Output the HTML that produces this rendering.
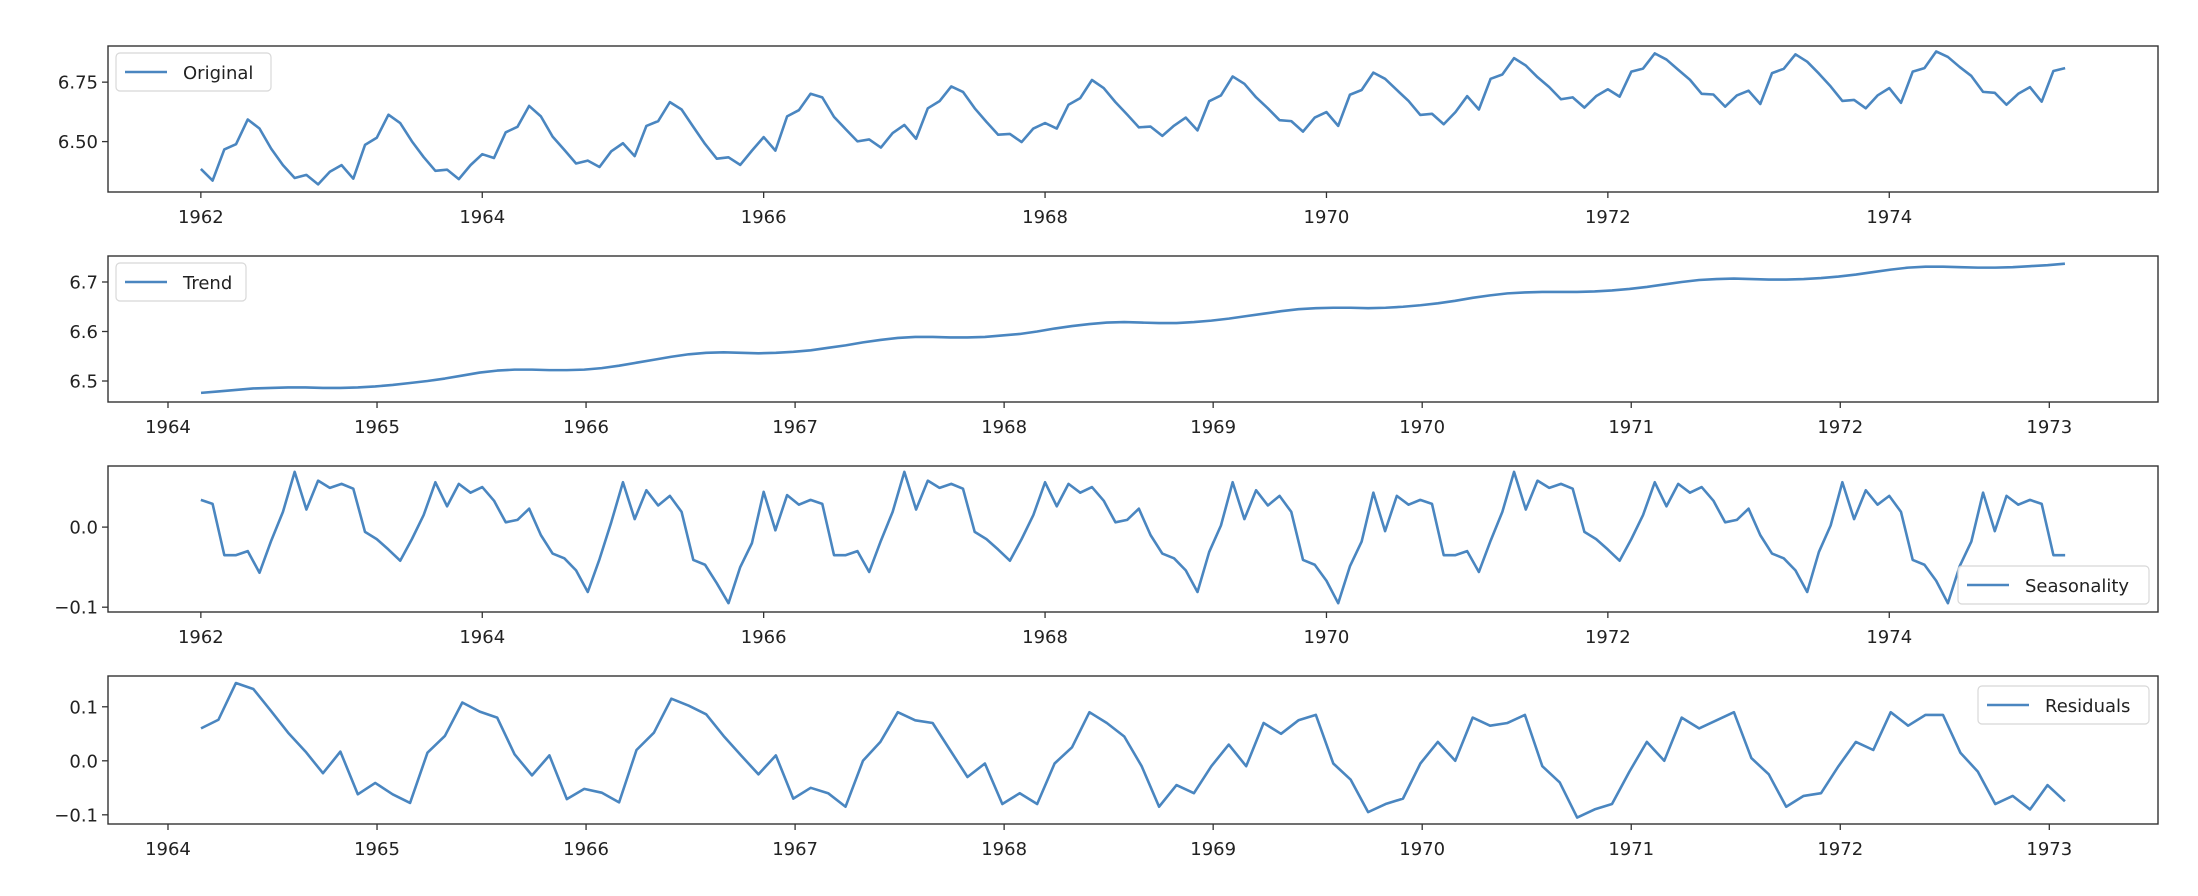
<!DOCTYPE html>
<html><head><meta charset="utf-8"><style>
html,body{margin:0;padding:0;background:#fff;}
svg{display:block;font-family:"DejaVu Sans","Liberation Sans",sans-serif;}
</style></head>
<body>
<svg id="fig" width="2198" height="896" viewBox="0 0 2198 896" xmlns="http://www.w3.org/2000/svg"></svg>
<script>
const originalValues = [6.385,6.336,6.467,6.489,6.593,6.555,6.470,6.401,6.347,6.360,6.320,6.373,6.401,6.344,6.486,6.516,6.613,6.578,6.501,6.435,6.377,6.382,6.342,6.401,6.447,6.431,6.539,6.562,6.650,6.606,6.521,6.465,6.408,6.420,6.393,6.459,6.493,6.439,6.566,6.586,6.666,6.635,6.562,6.490,6.428,6.434,6.402,6.462,6.519,6.462,6.606,6.632,6.701,6.686,6.604,6.552,6.501,6.509,6.475,6.536,6.570,6.512,6.640,6.670,6.732,6.709,6.640,6.583,6.529,6.532,6.498,6.555,6.578,6.555,6.655,6.683,6.759,6.725,6.666,6.614,6.560,6.563,6.524,6.567,6.601,6.547,6.670,6.694,6.774,6.743,6.686,6.640,6.590,6.586,6.542,6.601,6.624,6.566,6.697,6.717,6.790,6.764,6.717,6.671,6.612,6.617,6.573,6.624,6.691,6.635,6.764,6.782,6.851,6.820,6.771,6.729,6.678,6.686,6.643,6.691,6.720,6.689,6.794,6.807,6.871,6.845,6.802,6.760,6.701,6.698,6.647,6.694,6.714,6.658,6.788,6.806,6.867,6.836,6.786,6.732,6.671,6.675,6.640,6.694,6.725,6.663,6.794,6.809,6.879,6.856,6.814,6.776,6.709,6.705,6.655,6.701,6.729,6.668,6.797,6.809];
const seasonalValues = [0.034,0.029,-0.035,-0.035,-0.030,-0.057,-0.017,0.019,0.069,0.022,0.058,0.049,0.054,0.048,-0.006,-0.015,-0.028,-0.042,-0.015,0.015,0.056,0.026,0.054,0.043,0.050,0.033,0.006,0.009,0.023,-0.010,-0.033,-0.039,-0.054,-0.081,-0.040,0.006,0.056,0.010,0.046,0.027,0.039,0.019,-0.041,-0.047,-0.070,-0.095,-0.050,-0.020,0.044,-0.004,0.040,0.028,0.034,0.029,-0.035,-0.035,-0.030,-0.056,-0.017,0.019,0.069,0.022,0.058,0.049,0.054,0.048,-0.006,-0.015,-0.028,-0.042,-0.015,0.015,0.056,0.026,0.054,0.043,0.050,0.033,0.006,0.009,0.023,-0.010,-0.033,-0.039,-0.054,-0.081,-0.031,0.002,0.056,0.010,0.046,0.027,0.039,0.019,-0.041,-0.047,-0.067,-0.095,-0.049,-0.018,0.043,-0.005,0.039,0.028,0.034,0.029,-0.035,-0.035,-0.030,-0.056,-0.017,0.019,0.069,0.022,0.058,0.049,0.054,0.048,-0.006,-0.015,-0.028,-0.042,-0.015,0.015,0.056,0.026,0.054,0.043,0.050,0.033,0.006,0.009,0.023,-0.010,-0.033,-0.039,-0.054,-0.081,-0.031,0.002,0.056,0.010,0.046,0.028,0.039,0.019,-0.041,-0.047,-0.067,-0.095,-0.049,-0.018,0.043,-0.005,0.039,0.028,0.034,0.029,-0.035,-0.035];
const trendValues = [6.476,6.479,6.482,6.485,6.486,6.487,6.487,6.486,6.486,6.487,6.489,6.492,6.496,6.500,6.505,6.511,6.517,6.521,6.523,6.523,6.522,6.522,6.523,6.526,6.531,6.537,6.543,6.549,6.554,6.557,6.558,6.557,6.556,6.557,6.559,6.562,6.567,6.572,6.578,6.583,6.587,6.589,6.589,6.588,6.588,6.589,6.592,6.595,6.600,6.606,6.611,6.615,6.618,6.619,6.618,6.617,6.617,6.619,6.622,6.626,6.631,6.636,6.641,6.645,6.647,6.648,6.648,6.647,6.648,6.650,6.653,6.657,6.662,6.668,6.673,6.677,6.679,6.680,6.680,6.680,6.681,6.683,6.686,6.690,6.695,6.700,6.704,6.706,6.707,6.706,6.705,6.705,6.706,6.708,6.711,6.715,6.720,6.725,6.729,6.731,6.731,6.730,6.729,6.729,6.730,6.732,6.734,6.737];
const residualValues = [0.060,0.076,0.144,0.133,0.093,0.052,0.017,-0.023,0.017,-0.062,-0.041,-0.062,-0.078,0.015,0.046,0.108,0.091,0.080,0.012,-0.027,0.010,-0.071,-0.052,-0.059,-0.077,0.020,0.052,0.115,0.102,0.086,0.046,0.010,-0.025,0.010,-0.070,-0.050,-0.060,-0.085,0.000,0.035,0.090,0.075,0.070,0.020,-0.030,-0.005,-0.080,-0.060,-0.080,-0.005,0.025,0.090,0.070,0.045,-0.010,-0.085,-0.045,-0.060,-0.010,0.030,-0.010,0.070,0.050,0.075,0.085,-0.005,-0.035,-0.095,-0.080,-0.070,-0.005,0.035,0.000,0.080,0.065,0.070,0.085,-0.010,-0.040,-0.105,-0.090,-0.080,-0.020,0.035,0.000,0.080,0.060,0.075,0.090,0.005,-0.025,-0.085,-0.065,-0.060,-0.010,0.035,0.020,0.090,0.065,0.085,0.085,0.015,-0.020,-0.080,-0.065,-0.090,-0.045,-0.075];
const origStartYear = 1962.0;
const trendStartYear = 1964.158;
const xTicksA = [1962,1964,1966,1968,1970,1972,1974];
const xTicksB = [1964,1965,1966,1967,1968,1969,1970,1971,1972,1973];
const yTicksOrig = [6.50,6.75];
const yTickLabelsOrig = ["6.50","6.75"];
const yTicksTrend = [6.5,6.6,6.7];
const yTickLabelsTrend = ["6.5","6.6","6.7"];
const yTicksSeas = [-0.1,0.0];
const yTickLabelsSeas = ["\u22120.1","0.0"];
const yTicksResid = [-0.1,0.0,0.1];
const yTickLabelsResid = ["\u22120.1","0.0","0.1"];

const NS = "http://www.w3.org/2000/svg";
const svg = document.getElementById('fig');
const L = 108, R = 2158, COLOR = "#4a86c0";

function mk(tag, attrs, parent){ const e=document.createElementNS(NS,tag); for(const k in attrs) e.setAttribute(k,attrs[k]); (parent||svg).appendChild(e); return e; }

function panel(cfg){
  const g = mk('g',{});
  
  
  const xs = v => L + (v - cfg.x0)/(cfg.x1 - cfg.x0)*(R - L);
  const ys = v => cfg.bot - (v - cfg.y0)/(cfg.y1 - cfg.y0)*(cfg.bot - cfg.top);
  // line
  const pts = cfg.values.map((v,i)=> xs(cfg.start + i/12).toFixed(2)+','+ys(v).toFixed(2)).join(' ');
  const line = mk('polyline',{points:pts,fill:'none',stroke:COLOR,'stroke-width':2.6,'stroke-linejoin':'round'},g);
  
  
  // frame
  const fr = mk('rect',{x:L,y:cfg.top,width:R-L,height:cfg.bot-cfg.top,fill:'none',stroke:'#333','stroke-width':1.4},g);
  
  
  // x ticks
  cfg.xticks.forEach(t=>{
    const x = xs(t);
    mk('line',{x1:x,x2:x,y1:cfg.bot,y2:cfg.bot+6,stroke:'#333','stroke-width':1.3},g);
    const tx = mk('text',{x:x,y:cfg.bot+31,'text-anchor':'middle','font-size':18,fill:'#222'},g);
    
    
    tx.textContent = String(t);
  });
  cfg.yticks.forEach((t,i)=>{
    const y = ys(t);
    mk('line',{x1:L-6,x2:L,y1:y,y2:y,stroke:'#333','stroke-width':1.3},g);
    const tx = mk('text',{x:L-10,y:y+6.5,'text-anchor':'end','font-size':18,fill:'#222'},g);
    
    
    tx.textContent = cfg.ylabels[i];
  });
  // legend
  const lg = mk('g',{},g);
  
  
  mk('rect',{x:cfg.lx,y:cfg.ly,width:cfg.lw,height:38,rx:4,fill:'#fff','fill-opacity':0.85,stroke:'#d8d8d8','stroke-width':1.2},lg);
  mk('line',{x1:cfg.lx+9,x2:cfg.lx+51,y1:cfg.ly+19,y2:cfg.ly+19,stroke:COLOR,'stroke-width':2.6},lg);
  const lt = mk('text',{x:cfg.lx+67,y:cfg.ly+26,'font-size':18,fill:'#222'},lg);
  
  
  lt.textContent = cfg.label;
}

panel({name:'original',label:'Original',values:originalValues,start:origStartYear,x0:1961.34,x1:1975.91,top:46,bot:192,y0:6.288,y1:6.902,xticks:xTicksA,yticks:yTicksOrig,ylabels:yTickLabelsOrig,lx:116,ly:53,lw:155});
panel({name:'trend',label:'Trend',values:trendValues,start:trendStartYear,x0:1963.713,x1:1973.52,top:256,bot:402,y0:6.4576,y1:6.7525,xticks:xTicksB,yticks:yTicksTrend,ylabels:yTickLabelsTrend,lx:116,ly:263,lw:130});
panel({name:'seasonality',label:'Seasonality',values:seasonalValues,start:origStartYear,x0:1961.34,x1:1975.91,top:466,bot:612,y0:-0.106,y1:0.0763,xticks:xTicksA,yticks:yTicksSeas,ylabels:yTickLabelsSeas,lx:1958,ly:566,lw:191});
panel({name:'residuals',label:'Residuals',values:residualValues,start:trendStartYear,x0:1963.713,x1:1973.52,top:676,bot:824,y0:-0.117,y1:0.157,xticks:xTicksB,yticks:yTicksResid,ylabels:yTickLabelsResid,lx:1978,ly:686,lw:171});
</script>
</body></html>
